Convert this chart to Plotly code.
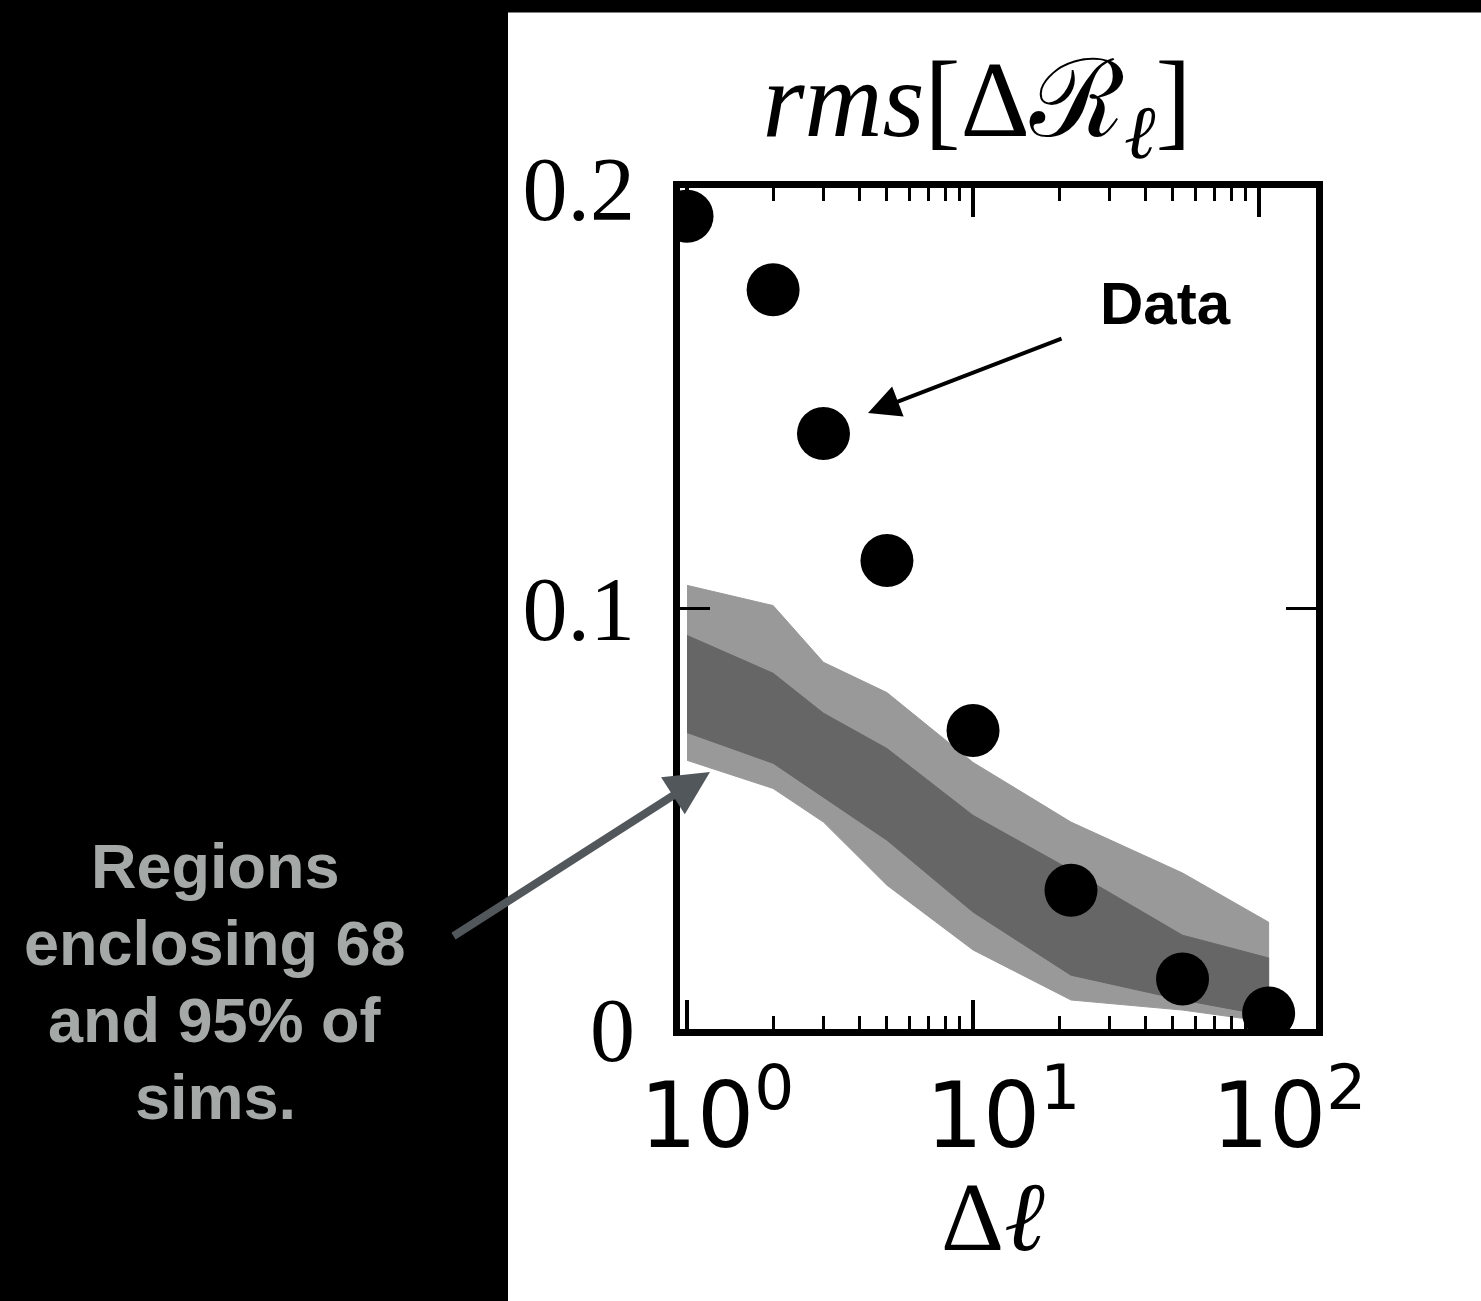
import plotly.graph_objects as go

# ---- data ----
delta_ell = [1, 2, 3, 5, 10, 22, 54, 108]
rms_data = [0.1933, 0.1758, 0.1416, 0.1114, 0.0710, 0.0330, 0.0119, 0.0038]

band95_upper = [0.1055, 0.1007, 0.0872, 0.0800, 0.0634, 0.0492, 0.0371, 0.0254]
band95_lower = [0.0639, 0.0572, 0.0492, 0.0342, 0.0188, 0.0069, 0.0045, 0.0017]
band68_upper = [0.0936, 0.0846, 0.0751, 0.0667, 0.0508, 0.0378, 0.0223, 0.0169]
band68_lower = [0.0705, 0.0632, 0.0551, 0.0449, 0.0278, 0.0128, 0.0069, 0.0031]

x_tickvals = [1, 10, 100]
x_ticktext = ["10<sup>0</sup>", "10<sup>1</sup>", "10<sup>2</sup>"]
x_minor = [2, 3, 4, 5, 6, 7, 8, 9, 20, 30, 40, 50, 60, 70, 80, 90, 200]
y_tickvals = [0, 0.1, 0.2]
y_ticktext = ["0", "0.1", "0.2"]

# ---- geometry (pixels) ----
W, H = 1481, 1301
L, R, T, B = 680, 1316, 188, 1029
pw, ph = R - L, B - T


def px(x):
    return (x - L) / pw


def py(y):
    return (B - y) / ph


fig = go.Figure()


def band(upper, lower, color):
    xs = delta_ell + delta_ell[::-1]
    ys = upper + lower[::-1]
    fig.add_trace(go.Scatter(x=xs, y=ys, fill="toself", fillcolor=color,
                             mode="lines", line=dict(color=color, width=1),
                             hoverinfo="skip", showlegend=False))


band(band95_upper, band95_lower, "#999999")
band(band68_upper, band68_lower, "#666666")

fig.add_trace(go.Scatter(x=delta_ell, y=rms_data, mode="markers",
                         marker=dict(color="black", size=53),
                         showlegend=False))

serif = "Liberation Serif"

fig.update_layout(
    width=W, height=H,
    margin=dict(l=L, r=W - R, t=T, b=H - B, pad=0),
    paper_bgcolor="white", plot_bgcolor="white",
    title=dict(text="<i>rms</i>[Δℛ<sub><i>ℓ</i></sub>]",
               font=dict(family=serif, size=108, color="black"),
               x=px(977), xref="paper", xanchor="center",
               y=1 - 98 / H, yref="container", yanchor="middle"),
    xaxis=dict(type="log", range=[-0.0245, 2.199],
               tickmode="array", tickvals=x_tickvals, ticktext=x_ticktext,
               ticks="inside", ticklen=29, tickwidth=4, tickcolor="black",
               showline=True, linewidth=7, linecolor="black", mirror="ticks",
               showgrid=False, zeroline=False,
               tickfont=dict(family="DejaVu Sans", size=90, color="black"),
               ticklabelshift=30, ticklabelstandoff=3,
               minor=dict(tickmode="array", tickvals=x_minor, ticks="inside",
                          ticklen=13, tickwidth=3, tickcolor="black",
                          showgrid=False)),
    yaxis=dict(range=[0, 0.2],
               tickmode="array", tickvals=y_tickvals, ticktext=y_ticktext,
               ticks="inside", ticklen=30, tickwidth=3, tickcolor="black",
               showline=True, linewidth=7, linecolor="black", mirror="ticks",
               showgrid=False, zeroline=False,
               tickfont=dict(family=serif, size=90, color="black"),
               ticklabelstandoff=20),
)

# black background areas of the slide
fig.add_shape(type="rect", xref="paper", yref="paper",
              x0=-1.2, x1=px(508), y0=-0.4, y1=1.3,
              fillcolor="black", line=dict(width=0), layer="below")
fig.add_shape(type="rect", xref="paper", yref="paper",
              x0=-1.2, x1=1.4, y0=py(12.5), y1=1.3,
              fillcolor="black", line=dict(width=0), layer="below")

# x-axis title
fig.add_annotation(xref="paper", yref="paper", x=px(993), y=py(1217),
                   text="Δ<i>ℓ</i>", showarrow=False,
                   font=dict(family=serif, size=98, color="black"),
                   xanchor="center", yanchor="middle")

# "Data" label with arrow
fig.add_annotation(xref="paper", yref="paper", x=px(1165), y=py(303),
                   text="<b>Data</b>", showarrow=False,
                   font=dict(family="Liberation Sans", size=60, color="black"),
                   xanchor="center", yanchor="middle")
fig.add_annotation(xref="paper", yref="paper", x=px(868), y=py(413),
                   text="", showarrow=True, axref="pixel", ayref="pixel",
                   ax=1063 - 868, ay=338 - 413,
                   arrowhead=2, arrowsize=1.6, arrowwidth=4,
                   arrowcolor="black", standoff=0)

# sims label (left) with arrow
gray = "#a4a8a7"
lines = ["Regions", "enclosing 68", "and 95% of", "sims."]
line_y = [866, 943, 1020, 1097]
for t, yy in zip(lines, line_y):
    fig.add_annotation(xref="paper", yref="paper", x=px(215), y=py(yy),
                       text="<b>" + t + "</b>", showarrow=False,
                       font=dict(family="Liberation Sans", size=63, color=gray),
                       xanchor="center", yanchor="middle")
fig.add_annotation(xref="paper", yref="paper", x=px(710), y=py(772),
                   text="", showarrow=True, axref="pixel", ayref="pixel",
                   ax=452 - 710, ay=937 - 772,
                   arrowhead=2, arrowsize=1.1, arrowwidth=8,
                   arrowcolor="#52575c", standoff=0)

fig.write_html("out.html")
